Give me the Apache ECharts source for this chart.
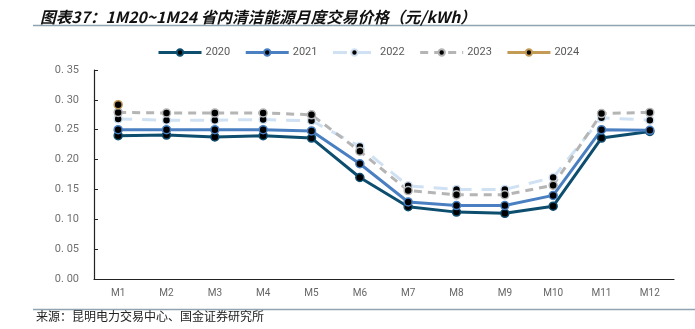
<!DOCTYPE html>
<html>
<head>
<meta charset="utf-8">
<script src="https://cdn.jsdelivr.net/npm/echarts@6/dist/echarts.min.js"></script>
<style>html,body{margin:0;padding:0;background:#fff}#c{width:695px;height:329px}</style>
</head>
<body>
<div id="c"></div>
<script>
const categories = ['M1','M2','M3','M4','M5','M6','M7','M8','M9','M10','M11','M12'];
const s2020 = [0.240,0.241,0.238,0.240,0.236,0.170,0.121,0.112,0.110,0.122,0.236,0.247];
const s2021 = [0.250,0.250,0.250,0.250,0.248,0.193,0.129,0.123,0.123,0.140,0.250,0.249];
const s2022 = [0.268,0.266,0.266,0.267,0.265,0.222,0.156,0.150,0.150,0.170,0.270,0.266];
const s2023 = [0.279,0.278,0.278,0.278,0.275,0.214,0.148,0.141,0.141,0.157,0.277,0.279];
const s2024 = [0.292];
const yTicks = {min: 0, max: 0.35, interval: 0.05};

const chart = echarts.init(document.getElementById('c'));
function mk(name, data, color, type, width) {
  return {
    name, type: 'line', data,
    symbol: 'circle', symbolSize: 8,
    itemStyle: {color: '#000', borderColor: color, borderWidth: 1.5},
    lineStyle: {color, width, type},
    emphasis: {disabled: true}
  };
}
chart.setOption({
  animation: false,
  title: {
    text: '图表37：1M20~1M24 省内清洁能源月度交易价格（元/kWh）',
    left: 35, top: 4,
    textStyle: {fontFamily: 'Noto Sans CJK SC', fontSize: 15.7, fontWeight: 'bold', fontStyle: 'italic', color: '#111'}
  },
  graphic: [
    {type: 'line', shape: {x1: 33, y1: 25.5, x2: 695, y2: 25.5}, style: {stroke: '#8fa3b1', lineWidth: 1.5}},
    {type: 'line', shape: {x1: 33, y1: 309.5, x2: 695, y2: 309.5}, style: {stroke: '#8fa3b1', lineWidth: 1.5}},
    {type: 'text', left: 36, top: 310, style: {text: '来源：昆明电力交易中心、国金证券研究所', font: '12px "Noto Sans CJK SC"', fill: '#222'}}
  ],
  legend: {
    top: 42, left: 152,
    itemWidth: 43, itemHeight: 8, itemGap: 14,
    lineStyle: {width: 3},
    textStyle: {color: '#595959', fontSize: 11, fontFamily: 'Roboto', padding: [0, 0, 0, -1]},
    data: ['2020','2021','2022','2023','2024']
  },
  grid: {left: 94, right: 21, top: 70, bottom: 50},
  xAxis: {
    type: 'category', data: categories, boundaryGap: true,
    axisLine: {lineStyle: {color: '#222', width: 1.2}},
    axisTick: {inside: true, length: 4, lineStyle: {color: '#222'}},
    axisLabel: {color: '#666', fontSize: 10, margin: 9, fontFamily: 'Roboto'}
  },
  yAxis: {
    type: 'value', min: yTicks.min, max: yTicks.max, interval: yTicks.interval,
    splitLine: {show: false},
    axisLine: {show: true, lineStyle: {color: '#222', width: 1.2}},
    axisTick: {show: true, inside: true, length: 4, lineStyle: {color: '#222'}},
    axisLabel: {color: '#707070', fontSize: 11, margin: 15, fontFamily: 'Roboto',
      formatter: v => v.toFixed(2).replace('.', '. ')}
  },
  series: [
    mk('2020', s2020, '#0d4d6e', 'solid', 3),
    mk('2021', s2021, '#4a80c2', 'solid', 3),
    mk('2022', s2022, '#cfe1f3', [14, 10], 3),
    mk('2023', s2023, '#b5b5b5', [8, 6], 3),
    mk('2024', s2024, '#c39b55', 'solid', 3)
  ]
});
</script>
</body>
</html>
